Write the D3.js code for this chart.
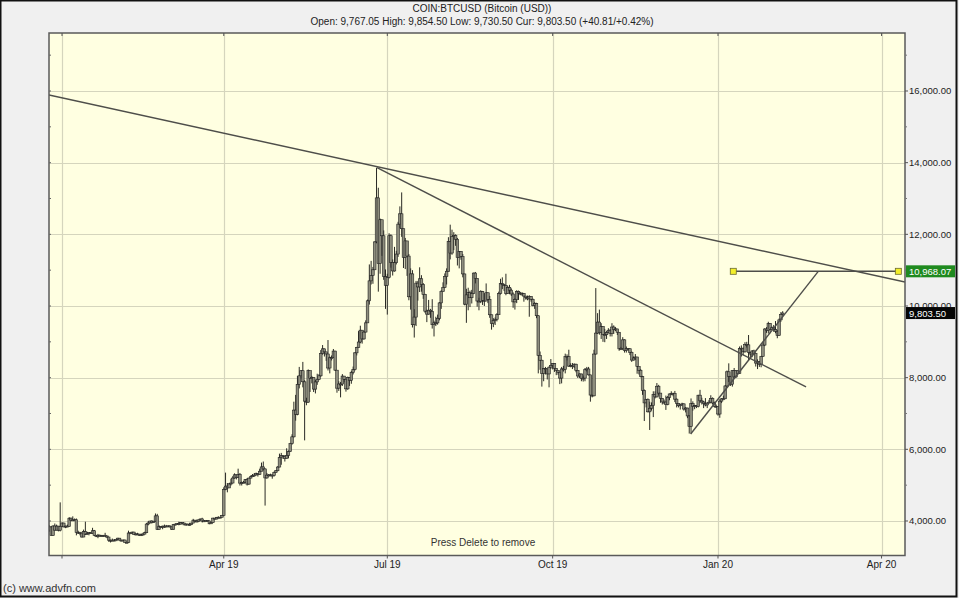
<!DOCTYPE html>
<html><head><meta charset="utf-8">
<script src="https://cdn.jsdelivr.net/npm/d3@7"></script>
<style>
html,body{margin:0;padding:0;background:#fff;}
svg{display:block;font-family:"Liberation Sans",Arial,sans-serif;}
</style></head><body>
<svg id="c" width="959" height="598"></svg>
<script>
// ---------- DATA ----------
const symbolTitle = "COIN:BTCUSD (Bitcoin (USD))";
const quoteLine = "Open: 9,767.05 High: 9,854.50 Low: 9,730.50 Cur: 9,803.50 (+40.81/+0.42%)";
const startDate = "2018-12-24";   // first daily bar
const firstOpen = 4017;
const close = [
 3745,3834,3598,3860,3744,3858,3743,
 3843,3943,3837,3858,3846,4077,4026,4031,4035,3679,3687,3661,3553,3706,3630,3656,3679,3657,3729,3601,3576,3604,3585,3600,3602,3583,3552,3465,3459,3467,3448,
 3487,3521,3465,3458,3469,3405,3400,3666,3671,3690,3625,3640,3633,3594,3617,3634,3673,3915,3947,3999,3955,3993,4143,3767,3845,3834,3857,3855,
 3859,3865,3836,3770,3902,3912,3927,3912,3957,3943,3893,3916,3903,3905,3942,4023,3998,3989,4032,4058,3997,4005,4011,4002,3922,3954,4080,4054,4104,4106,4105,
 4158,4880,4974,4923,5037,5059,5199,5289,5208,5300,5057,5071,5081,5160,5030,5197,5236,5271,5284,5326,5296,5389,5510,5453,5202,5280,5287,5283,5269,5351,
 5402,5506,5768,5831,5795,5747,5830,5936,6158,6349,7095,6978,7814,8052,8194,7885,7344,7316,8198,7979,8003,7681,7882,7955,8052,8674,8805,8720,8660,8269,8555,
 8558,8742,8209,7707,7824,7822,8044,7955,7688,8000,7927,8145,8230,8693,8839,8995,9325,9081,9273,9530,10145,10702,10855,11011,11790,13017,11182,12407,11960,10818,
 10578,10801,11961,11215,10978,11208,11450,12285,12573,12157,11358,11816,11393,10257,10896,9478,9691,10638,10532,10760,10599,10325,9855,9773,9882,9848,9478,9531,9529,9657,10087,
 10400,10519,10821,10970,11805,11478,11942,11966,11862,11354,11523,11382,10895,10051,10311,10374,10231,10345,10919,10764,10138,10131,10407,10159,10138,10370,10185,9755,9510,9598,9630,
 9757,10346,10623,10594,10575,10353,10517,10441,10334,10115,10178,10410,10360,10358,10347,10276,10241,10198,10266,10181,10019,10070,9729,8620,8486,8118,8251,8245,8104,8293,
 8343,8393,8259,8205,8151,7988,8245,8228,8595,8586,8321,8336,8321,8375,8205,8047,8103,7973,7988,8222,8243,8078,7514,7493,8660,9244,9551,9256,9427,9205,9199,
 9261,9324,9235,9413,9342,9360,9267,8804,8813,9055,8757,8816,8808,8708,8491,8550,8577,8309,8206,8027,7642,7296,7397,7047,7146,7218,7531,7463,7761,7569,
 7424,7321,7320,7252,7448,7546,7556,7564,7400,7278,7217,7243,7269,7124,7152,6932,6640,7276,7203,7218,7191,7511,7355,7322,7275,7238,7290,7317,7422,7293,7194,
 7200,6985,7345,7411,7411,7769,8164,8038,7818,8197,8021,8193,8118,8812,8821,8721,8930,8916,8701,8658,8745,8681,8407,8445,8367,8597,8910,9358,9316,9508,9350,
 9392,9345,9293,9180,9613,9767.05,9803.5
];
const high = [
 4020,3880,3860,3880,3930,3900,3860,
 4520,3960,3950,3870,3900,4110,4100,4130,4070,4070,3730,3690,3670,3760,3980,3700,3690,3690,3810,3750,3610,3640,3620,3610,3610,3670,3590,3560,3480,3510,3490,
 3500,3530,3520,3480,3480,3480,3430,3730,3680,3700,3700,3660,3670,3640,3650,3670,3700,3940,4000,4000,4020,4000,4210,4200,3880,3860,3870,3900,
 3890,3870,3870,3840,3910,3930,3940,3980,3970,3960,3950,3920,3920,3950,3950,4060,4030,4040,4040,4060,4090,4020,4020,4020,4010,3960,4090,4080,4110,4130,4110,
 4170,4940,5350,5060,5060,5180,5250,5330,5290,5460,5340,5100,5120,5170,5200,5210,5270,5310,5340,5350,5340,5460,5630,5660,5470,5340,5310,5320,5300,5380,
 5420,5530,5880,5900,5840,5800,6030,5970,6180,6420,7330,7520,8050,8300,8210,8440,7930,7440,8230,8190,8050,8000,7940,8110,8100,8770,8910,8810,8720,9050,8590,
 8620,8800,8750,8210,7900,7880,8100,8040,7960,8030,8000,8190,8310,8710,8860,9300,9450,9330,9300,9600,10180,11160,11260,11090,11800,13860,13300,12440,12260,12110,
 11020,10900,12030,12000,11300,11650,11540,12350,12780,13170,12160,11900,11800,11450,11050,11000,9910,10700,10700,11080,10860,10640,10340,9900,10170,9920,10190,9590,9700,9760,10110,
 10440,10660,10910,11050,11920,12270,12130,12060,12000,11900,11530,11530,11450,10900,10480,10510,10430,10450,10930,10950,10770,10230,10440,10420,10360,10630,10370,10280,9760,9660,9680,
 9800,10400,10760,10800,10620,10900,10560,10590,10490,10380,10220,10440,10430,10390,10380,10360,10280,10290,10300,10270,10210,10110,10090,9740,8730,8500,8260,8300,8250,8310,
 8520,8400,8400,8260,8200,8160,8300,8330,8670,8650,8780,8400,8410,8400,8390,8210,8120,8110,8060,8270,8300,8300,8080,7520,8780,10500,9800,9900,9520,9430,9360,
 9300,9380,9360,9520,9460,9410,9360,9270,8860,9130,9070,8870,8820,8810,8730,8590,8660,8580,8310,8240,8050,7670,7400,7420,7330,7310,7620,7620,7850,7800,
 7560,7430,7390,7500,7490,7550,7620,7580,7630,7420,7280,7260,7300,7280,7180,7160,6950,7420,7340,7240,7230,7520,7660,7440,7350,7430,7320,7380,7510,7450,7330,
 7250,7210,7400,7430,7500,7790,8200,8400,8050,8200,8270,8200,8200,8870,8900,8840,8990,9000,9190,8720,8770,8780,8680,8510,8460,8600,8980,9380,9410,9560,9520,
 9430,9470,9580,9330,9650,9830,9854.5
];
const low = [
 3700,3700,3590,3590,3740,3740,3710,
 3710,3830,3820,3800,3840,3840,4010,4000,4010,3600,3640,3600,3540,3550,3610,3620,3600,3640,3650,3580,3550,3520,3570,3570,3560,3580,3520,3420,3400,3440,3440,
 3440,3470,3460,3450,3450,3400,3390,3390,3640,3640,3620,3600,3620,3590,3590,3610,3630,3670,3880,3930,3930,3950,3990,3750,3760,3810,3770,3810,
 3850,3830,3820,3750,3760,3880,3900,3880,3910,3920,3880,3870,3890,3870,3900,3940,3980,3970,3980,4010,3960,3990,4000,3990,3910,3920,3950,4040,4050,4080,4090,
 4100,4150,4860,4800,4920,4990,5060,5180,5160,5200,4990,4990,5060,5060,4990,5010,5190,5240,5240,5270,5240,5290,5390,5410,4430,5180,5240,5250,5180,5240,
 5340,5390,5500,5570,5730,5660,5750,5750,5930,6130,6330,6800,6950,7700,7980,7730,6250,7230,7300,7600,7840,7600,7560,7800,7930,8020,8640,8590,8470,8200,8120,
 8480,8550,8190,7580,7630,7450,7770,7870,7610,7660,7770,7830,8090,8200,8620,8830,8960,8950,9060,9260,9550,10040,10600,10620,11020,11750,10400,10900,11400,10730,
 9920,9760,10770,11070,10850,10960,11160,11370,12170,11930,11060,11030,10840,10160,9900,9400,9120,9440,10150,10390,10400,10200,9810,9550,9760,9670,9370,9150,9440,9480,9600,
 9920,10410,10500,10600,10960,11300,11430,11560,11680,11130,11050,11290,10800,10020,9530,9880,9970,10070,10330,10630,9980,9880,10080,10030,10000,10140,10080,9670,9340,9410,9470,
 9570,9750,10320,10470,10420,10300,10340,10330,10280,9950,9900,10080,10170,10300,10280,10120,10180,10160,9700,10120,9990,9920,9660,8120,8220,7750,7900,8090,7950,7730,
 8240,8230,8160,8070,8080,7820,7840,8170,8120,8480,8300,8290,8240,8270,8150,7990,7990,7900,7890,7900,8170,8060,7330,7450,7480,8640,9220,9200,9080,9000,8990,
 9080,9240,9150,9150,9220,9300,9190,8750,8770,8770,8700,8700,8750,8630,8440,8480,8490,8110,8090,8010,7520,6790,7170,7030,6540,7080,6900,7420,7450,7500,
 7300,7250,7260,7100,7230,7370,7510,7480,7320,7170,7170,7110,7220,7080,7030,6870,6440,6440,7080,7120,7150,7170,7290,7250,7150,7200,7150,7290,7300,7250,7170,
 7170,6940,6880,7290,7400,7400,7720,7880,7770,7750,8000,7990,8080,8110,8590,8620,8700,8840,8470,8530,8570,8620,8310,8240,8300,8290,8580,8880,9250,9230,9240,
 9330,9280,9240,9100,9170,9560,9730.5
];
const yTicks = [4000,6000,8000,10000,12000,14000,16000];
const yMinorTicks = [5000,7000,9000,11000,13000,15000,17000];
const xTickDates  = ["2019-01-01","2019-04-01","2019-07-01","2019-10-01","2020-01-01","2020-04-01"];
const xTickLabels = ["","Apr 19","Jul 19","Oct 19","Jan 20","Apr 20"];
// user-drawn trend lines: [date, value] endpoints
const trendTop    = [["2018-12-24T18:24Z",15888],["2020-04-14T01:12Z",10670]];
const trendDown   = [["2019-06-25T07:00Z",13860],["2020-02-19T00:00Z",7740]];
const trendUp     = [["2019-12-16T19:00Z",6428],["2020-02-25T19:00Z",10968.07]];
const targetLine  = [["2020-01-09T12:00Z",10968.07],["2020-04-10T08:00Z",10968.07]];
const targetValue = 10968.07;
const lastValue = 9803.50;

// ---------- CHART ----------
const svg = d3.select("#c");
const P = {l:49, r:905, t:33, b:555.5};
const x = d3.scaleUtc()
  .domain([new Date(Date.UTC(2018,11,24,18,24)), new Date(Date.UTC(2020,3,14,1,12))])
  .range([P.l, P.r]);
const y = d3.scaleLinear().domain([3037.2, 17618.6]).range([P.b, P.t]);
const fmt = d3.format(",.2f");
const pd = s => new Date(s.length===10 ? s+"T00:00:00Z" : s);

svg.append("rect").attr("width",959).attr("height",598).attr("fill","#f0f0f0");
svg.append("rect").attr("x",P.l).attr("y",P.t).attr("width",P.r-P.l).attr("height",P.b-P.t).attr("fill","#ffffe1");

// grid
svg.append("g").selectAll("line").data(yTicks).join("line")
  .attr("x1",P.l).attr("x2",P.r).attr("y1",d=>Math.round(y(d))+0.5).attr("y2",d=>Math.round(y(d))+0.5)
  .attr("stroke","#d5d5bd").attr("stroke-width",1.2);
svg.append("g").selectAll("line").data(xTickDates).join("line")
  .attr("x1",d=>Math.round(x(pd(d)))+0.5).attr("x2",d=>Math.round(x(pd(d)))+0.5).attr("y1",P.t).attr("y2",P.b)
  .attr("stroke","#d5d5bd").attr("stroke-width",1.2);

const defs = svg.append("defs");
defs.append("clipPath").attr("id","clip").append("rect")
  .attr("x",P.l).attr("y",P.t).attr("width",P.r-P.l).attr("height",P.b-P.t);

// candles
const start = pd(startDate);
const bars = close.map((c,i)=>({date:d3.utcDay.offset(start,i), o:i?close[i-1]:firstOpen, h:high[i], l:low[i], c}));
const gb = svg.append("g").attr("clip-path","url(#clip)");
gb.append("path")
  .attr("d", bars.map(b=>{const xx=x(b.date); return `M${xx},${y(b.h)}V${y(b.l)}`;}).join(""))
  .attr("stroke","#2a2a25").attr("stroke-width",1).attr("fill","none");
gb.selectAll("rect").data(bars).join("rect")
  .attr("x",b=>x(b.date)-1.3).attr("width",2.6)
  .attr("y",b=>y(Math.max(b.o,b.c)))
  .attr("height",b=>Math.max(1,Math.abs(y(b.o)-y(b.c))))
  .attr("fill","#8e8e7e").attr("stroke","#202020").attr("stroke-width",0.6);

// trend lines
const line = d3.line().x(d=>x(pd(d[0]))).y(d=>y(d[1]));
const gt = svg.append("g").attr("clip-path","url(#clip)").attr("fill","none").attr("stroke","#4e4e4a").attr("stroke-width",1.4);
[trendTop,trendDown,trendUp,targetLine].forEach(t=>gt.append("path").attr("d",line(t)));
svg.append("g").selectAll("rect").data(targetLine).join("rect")
  .attr("x",d=>x(pd(d[0]))-3).attr("y",d=>y(d[1])-3).attr("width",6).attr("height",6)
  .attr("fill","#f2ee2a").attr("stroke","#6a6a30").attr("stroke-width",0.8);

// frame
svg.append("rect").attr("x",P.l).attr("y",P.t).attr("width",P.r-P.l).attr("height",P.b-P.t)
  .attr("fill","none").attr("stroke","#5a5a5a").attr("stroke-width",1.5);

// y axis (right)
const ga = svg.append("g").attr("font-size",9.5).attr("fill","#222");
ga.selectAll("line.maj").data(yTicks).join("line").attr("class","maj")
  .attr("x1",P.r).attr("x2",P.r+3).attr("y1",d=>y(d)).attr("y2",d=>y(d)).attr("stroke","#555");
ga.selectAll("line.min").data(yMinorTicks.filter(v=>y(v)>P.t)).join("line").attr("class","min")
  .attr("x1",P.r).attr("x2",P.r+2).attr("y1",d=>y(d)).attr("y2",d=>y(d)).attr("stroke","#777");
ga.selectAll("line.lt").data(yTicks.concat(yMinorTicks).filter(v=>y(v)>P.t)).join("line").attr("class","lt")
  .attr("x1",P.l).attr("x2",P.l+2).attr("y1",d=>y(d)).attr("y2",d=>y(d)).attr("stroke","#666");
ga.selectAll("text").data(yTicks.filter(v=>v!==10000)).join("text")
  .attr("x",P.r+4).attr("y",d=>y(d)+3.3).text(d=>fmt(d));
// the 10,000.00 label sits partly hidden behind the last-price box: show only its upper part
defs.append("clipPath").attr("id","clip10k").append("rect")
  .attr("x",P.r).attr("y",y(10000)-8).attr("width",54).attr("height",y(lastValue)-6-(y(10000)-8));
ga.append("text").attr("clip-path","url(#clip10k)")
  .attr("x",P.r+4).attr("y",y(10000)+3.3).text(fmt(10000));

// x axis (bottom)
const gx = svg.append("g").attr("font-size",10).attr("fill","#222");
gx.selectAll("line.b").data(xTickDates).join("line").attr("class","b")
  .attr("x1",d=>x(pd(d))).attr("x2",d=>x(pd(d))).attr("y1",P.b).attr("y2",P.b+3).attr("stroke","#555");
gx.selectAll("line.t").data(xTickDates).join("line").attr("class","t")
  .attr("x1",d=>x(pd(d))).attr("x2",d=>x(pd(d))).attr("y1",P.t).attr("y2",P.t+3).attr("stroke","#555");
gx.selectAll("text").data(xTickDates).join("text")
  .attr("x",d=>x(pd(d))).attr("y",567.5).attr("text-anchor","middle").text((d,i)=>xTickLabels[i]);

// value boxes on axis
function valueBox(v, fill){
  const g = svg.append("g");
  g.append("rect").attr("x",P.r+1).attr("y",y(v)-6).attr("width",49).attr("height",12).attr("fill",fill);
  g.append("text").attr("x",P.r+4).attr("y",y(v)+3.5).attr("font-size",9.5).attr("fill","#fff").text(fmt(v));
}
valueBox(targetValue,"#1f8a1f");
valueBox(lastValue,"#050505");

// header & footer text
svg.append("text").attr("x",482).attr("y",11.5).attr("text-anchor","middle").attr("font-size",10).attr("fill","#222").text(symbolTitle);
svg.append("text").attr("x",482).attr("y",24.5).attr("text-anchor","middle").attr("font-size",10).attr("fill","#222").text(quoteLine);
svg.append("text").attr("x",483).attr("y",546).attr("text-anchor","middle").attr("font-size",10).attr("fill","#333").text("Press Delete to remove");
svg.append("text").attr("x",3).attr("y",592).attr("font-size",11).attr("fill","#333").text("(c) www.advfn.com");

// outer border
svg.append("rect").attr("x",0.5).attr("y",0.5).attr("width",956).attr("height",596)
  .attr("fill","none").attr("stroke","#111").attr("stroke-width",2);
</script>
</body></html>
